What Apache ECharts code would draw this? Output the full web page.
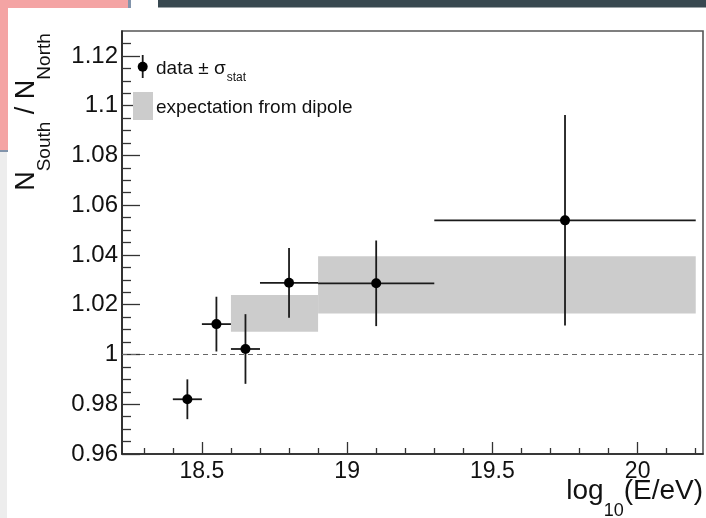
<!DOCTYPE html>
<html><head><meta charset="utf-8">
<script src="https://cdn.jsdelivr.net/npm/echarts@6/dist/echarts.min.js"></script>
<style>html,body{margin:0;padding:0;background:#fff;} #c{width:706px;height:518px;}</style>
</head><body><div id="c"></div>
<script>
// ---- data ----
const binLow   = [18.4, 18.5, 18.6, 18.7, 18.9, 19.3];
const binHigh  = [18.5, 18.6, 18.7, 18.9, 19.3, 20.2];
const binMid   = [18.45, 18.55, 18.65, 18.8, 19.1, 19.75];
const ratio    = [0.982, 1.0122, 1.0022, 1.0288, 1.0286, 1.0539];
const statErr  = [0.008, 0.011, 0.014, 0.014, 0.0172, 0.0423];

const dipLow    = [18.6, 18.9];
const dipHigh   = [18.9, 20.2];
const dipBottom = [1.0091, 1.0165];
const dipTop    = [1.0239, 1.0395];

const refLine = 1;

const xRange = [18.225, 20.225];
const yRange = [0.96, 1.13];
const xMajorTicks = [18.5, 19, 19.5, 20];
const xMinorTicks = [18.3, 18.4, 18.6, 18.7, 18.8, 18.9, 19.1, 19.2, 19.3, 19.4, 19.6, 19.7, 19.8, 19.9, 20.1, 20.2];
const yMajorTicks = [0.96, 0.98, 1, 1.02, 1.04, 1.06, 1.08, 1.1, 1.12];
const yMinorTicks = [0.965, 0.97, 0.975, 0.985, 0.99, 0.995, 1.005, 1.01, 1.015, 1.025, 1.03, 1.035,
  1.045, 1.05, 1.055, 1.065, 1.07, 1.075, 1.085, 1.09, 1.095, 1.105, 1.11, 1.115, 1.125];

// ---- chart ----
const FONT = '"Liberation Sans", Arial, Helvetica, sans-serif';
const chart = echarts.init(document.getElementById('c'), null, {renderer: 'canvas'});

const boxData = dipLow.map((v, i) => [dipLow[i], dipHigh[i], dipBottom[i], dipTop[i]]);
const pointData = binMid.map((v, i) => [binMid[i], ratio[i], binLow[i], binHigh[i], ratio[i] - statErr[i], ratio[i] + statErr[i]]);

function axisX(ticks, len, showLine, showLabel) {
  return {
    type: 'value', position: 'bottom', min: xRange[0], max: xRange[1],
    axisLine: {show: showLine, onZero: false, lineStyle: {color: '#222', width: 1.6}},
    axisTick: {show: true, inside: true, length: len, customValues: ticks, lineStyle: {color: '#333', width: 1.3}},
    axisLabel: {show: showLabel, customValues: ticks, fontSize: 23, fontFamily: FONT, color: '#111', margin: 6},
    splitLine: {show: false}
  };
}
function axisY(ticks, len, showLine, showLabel) {
  return {
    type: 'value', position: 'left', min: yRange[0], max: yRange[1],
    axisLine: {show: showLine, onZero: false, lineStyle: {color: '#222', width: 1.6}},
    axisTick: {show: true, inside: true, length: len, customValues: ticks, lineStyle: {color: '#333', width: 1.3}},
    axisLabel: {show: showLabel, customValues: ticks, fontSize: 24, fontFamily: FONT, color: '#111', margin: 4},
    splitLine: {show: false}
  };
}

const option = {
  animation: false,
  backgroundColor: '#ffffff',
  grid: {left: 122, right: 3, top: 31, bottom: 64, show: true, borderColor: '#555', borderWidth: 1.6, backgroundColor: 'transparent', containLabel: false},
  xAxis: [axisX(xMajorTicks, 12, true, true), axisX(xMinorTicks, 6, false, false)],
  yAxis: [axisY(yMajorTicks, 18, true, true), axisY(yMinorTicks, 9, false, false)],
  series: [
    {
      type: 'custom', z: 1,
      data: boxData,
      encode: {x: [0, 1], y: [2, 3]},
      renderItem: function (params, api) {
        const p0 = api.coord([api.value(0), api.value(3)]);
        const p1 = api.coord([api.value(1), api.value(2)]);
        return {type: 'rect', shape: {x: p0[0], y: p0[1], width: p1[0] - p0[0], height: p1[1] - p0[1]}, style: {fill: '#cccccc'}};
      },
      markLine: {
        silent: true, symbol: 'none', label: {show: false},
        lineStyle: {type: [5, 4], color: '#666', width: 1},
        data: [{yAxis: refLine}]
      }
    },
    {
      type: 'custom', z: 3,
      data: pointData,
      encode: {x: [0, 2, 3], y: [1, 4, 5]},
      renderItem: function (params, api) {
        const c = api.coord([api.value(0), api.value(1)]);
        const l = api.coord([api.value(2), api.value(1)]);
        const r = api.coord([api.value(3), api.value(1)]);
        const b = api.coord([api.value(0), api.value(4)]);
        const t = api.coord([api.value(0), api.value(5)]);
        const ls = {stroke: '#1a1a1a', lineWidth: 1.8};
        return {type: 'group', children: [
          {type: 'line', shape: {x1: l[0], y1: l[1], x2: r[0], y2: r[1]}, style: ls},
          {type: 'line', shape: {x1: b[0], y1: b[1], x2: t[0], y2: t[1]}, style: ls},
          {type: 'circle', shape: {cx: c[0], cy: c[1], r: 5}, style: {fill: '#000'}}
        ]};
      }
    }
  ],
  graphic: [
    // slide background fragments
    {type: 'rect', z: -10, shape: {x: 0, y: 0, width: 128, height: 8}, style: {fill: '#f4a4a4'}},
    {type: 'rect', z: -10, shape: {x: 0, y: 8, width: 8, height: 142}, style: {fill: '#f4a4a4'}},
    {type: 'rect', z: -10, shape: {x: 128, y: 0, width: 3, height: 8}, style: {fill: '#8294ab'}},
    {type: 'rect', z: -10, shape: {x: 0, y: 150, width: 8, height: 2}, style: {fill: '#8294ab'}},
    {type: 'rect', z: -10, shape: {x: 0, y: 152, width: 7, height: 366}, style: {fill: '#ededed'}},
    {type: 'rect', z: -10, shape: {x: 158, y: 0, width: 548, height: 7.5}, style: {fill: '#384850'}},
    // legend
    {type: 'line', z: 10, shape: {x1: 142.7, y1: 55, x2: 142.7, y2: 78}, style: {stroke: '#1a1a1a', lineWidth: 1.8}},
    {type: 'circle', z: 10, shape: {cx: 142.7, cy: 66.7, r: 5}, style: {fill: '#000'}},
    {type: 'rect', z: 10, shape: {x: 133, y: 92, width: 20, height: 28}, style: {fill: '#cccccc'}},
    {type: 'text', z: 10, x: 156, y: 59, style: {
      text: '{a|data ± σ}{s|stat}', align: 'left', verticalAlign: 'top', fill: '#111',
      rich: {
        a: {fontSize: 19, lineHeight: 19, fontFamily: FONT, fill: '#111', verticalAlign: 'top'},
        s: {fontSize: 12, lineHeight: 12, fontFamily: FONT, fill: '#111', verticalAlign: 'top', padding: [13, 0, 0, 1]}
      }
    }},
    {type: 'text', z: 10, x: 156, y: 98, style: {
      text: 'expectation from dipole', align: 'left', verticalAlign: 'top', fill: '#111',
      fontSize: 19, fontFamily: FONT, lineHeight: 19
    }},
    // x-axis title
    {type: 'text', z: 10, x: 703, y: 477, style: {
      text: '{a|log}{s|10}{a|(E/eV)}', align: 'right', verticalAlign: 'top', fill: '#111',
      rich: {
        a: {fontSize: 28, lineHeight: 28, fontFamily: FONT, fill: '#111', verticalAlign: 'top'},
        s: {fontSize: 18, lineHeight: 18, fontFamily: FONT, fill: '#111', verticalAlign: 'top', padding: [25, 0, 0, 0]}
      }
    }},
    // y-axis title
    {type: 'text', z: 10, x: 13.5, y: 112, rotation: Math.PI / 2, style: {
      text: '{a|N}{s|South}{a| / N}{s|North}', align: 'center', verticalAlign: 'top', fill: '#111',
      rich: {
        a: {fontSize: 27, lineHeight: 27, fontFamily: FONT, fill: '#111', verticalAlign: 'top'},
        s: {fontSize: 19, lineHeight: 19, fontFamily: FONT, fill: '#111', verticalAlign: 'top', padding: [22, 0, 0, 0]}
      }
    }}
  ]
};
chart.setOption(option);
</script>
</body></html>
